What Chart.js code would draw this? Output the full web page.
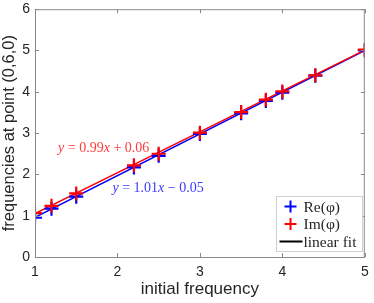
<!DOCTYPE html>
<html><head><meta charset="utf-8">
<script src="https://cdn.jsdelivr.net/npm/chart.js@4/dist/chart.umd.min.js"></script>
<style>html,body{margin:0;padding:0;background:#fff}#wrap{width:374px;height:303px}</style>
</head><body><div id="wrap"><canvas id="c" width="374" height="303"></canvas></div>
<script>
const xValues = [1, 1.2, 1.5, 2.2, 2.5, 3, 3.5, 3.8, 4, 4.4, 5];
const reValues = [0.95, 1.17, 1.46, 2.17, 2.45, 2.98, 3.48, 3.78, 3.98, 4.39, 5.0];
const imValues = [1.06, 1.24, 1.54, 2.22, 2.50, 3.01, 3.51, 3.81, 4.01, 4.40, 5.02];
const fitX = [1, 5];
const reFit = [0.96, 5.0];
const imFit = [1.05, 5.01];
const xTicks = [1, 2, 3, 4, 5];
const yTicks = [0, 1, 2, 3, 4, 5, 6];
const legendLabels = ['Re(φ)', 'Im(φ)', 'linear fit'];
const annotations = [
  {x: 1.28, y: 2.62, parts: [['y','i'],[' = 0.99','n'],['x','i'],[' + 0.06','n']], color: '#ff3b3b'},
  {x: 1.94, y: 1.67, parts: [['y','i'],[' = 1.01','n'],['x','i'],[' \u2212 0.05','n']], color: '#3b3bff'}
];

const pts = (xs, ys) => xs.map((x, i) => ({x, y: ys[i]}));
const AXC = '#8a8a8a';
const TXT = '#262626';

const boxPlugin = {
  id: 'box',
  afterDraw(chart) {
    const {ctx, chartArea: a, scales: {x, y}} = chart;
    ctx.save();
    ctx.strokeStyle = AXC; ctx.lineWidth = 1;
    ctx.strokeRect(a.left + 0.5, a.top + 0.5, a.right - a.left - 1, a.bottom - a.top);
    const L = 4;
    ctx.beginPath();
    xTicks.forEach(v => { const p = Math.round(x.getPixelForValue(v)) + 0.5;
      ctx.moveTo(p, a.bottom); ctx.lineTo(p, a.bottom - L);
      ctx.moveTo(p, a.top); ctx.lineTo(p, a.top + L); });
    yTicks.forEach(v => { const p = Math.round(y.getPixelForValue(v)) + 0.5;
      ctx.moveTo(a.left, p); ctx.lineTo(a.left + L, p);
      ctx.moveTo(a.right, p); ctx.lineTo(a.right - L, p); });
    ctx.stroke();

    // annotations
    ctx.textBaseline = 'middle';
    annotations.forEach(an => {
      let px = x.getPixelForValue(an.x), py = y.getPixelForValue(an.y);
      ctx.fillStyle = an.color;
      an.parts.forEach(([t, s]) => {
        ctx.font = (s === 'i' ? 'italic ' : '') + '14px "Liberation Serif", "DejaVu Serif", serif';
        ctx.fillText(t, px, py);
        px += ctx.measureText(t).width;
      });
    });

    // legend
    const lx = 276.5, ly = 196.5, lw = 86, lh = 55;
    ctx.fillStyle = '#fff';
    ctx.fillRect(lx, ly, lw, lh);
    ctx.strokeStyle = '#d0d0d0';
    ctx.strokeRect(lx, ly, lw, lh);
    const colors = ['#0000ff', '#ff0000', '#000000'];
    ctx.font = '15.5px "Liberation Serif", "DejaVu Serif", serif';
    ctx.textBaseline = 'middle';
    legendLabels.forEach((lab, i) => {
      const cy = ly + 10 + i * 17.5;
      const cx = lx + 14;
      ctx.strokeStyle = colors[i];
      ctx.lineWidth = 2;
      ctx.beginPath();
      if (i < 2) {
        ctx.moveTo(cx - 6, cy); ctx.lineTo(cx + 6, cy);
        ctx.moveTo(cx, cy - 6); ctx.lineTo(cx, cy + 6);
      } else {
        ctx.moveTo(lx + 3, cy); ctx.lineTo(lx + 26, cy);
      }
      ctx.stroke();
      ctx.fillStyle = TXT;
      ctx.fillText(lab, lx + 27, cy + 1);
    });
    ctx.restore();
  }
};

new Chart(document.getElementById('c'), {
  type: 'scatter',
  data: {
    datasets: [
      {label: 'Re fit', data: pts(fitX, reFit), showLine: true, borderColor: '#0000ff', borderWidth: 1.5, pointRadius: 0, order: 4},
      {label: 'Im fit', data: pts(fitX, imFit), showLine: true, borderColor: '#ff0000', borderWidth: 1.5, pointRadius: 0, order: 3},
      {label: legendLabels[0], data: pts(xValues, reValues), pointStyle: 'cross', pointRadius: 7, pointBorderWidth: 2.2, borderColor: '#0000ff', backgroundColor: '#0000ff', order: 2},
      {label: legendLabels[1], data: pts(xValues, imValues), pointStyle: 'cross', pointRadius: 7, pointBorderWidth: 2.2, borderColor: '#ff0000', backgroundColor: '#ff0000', order: 1}
    ]
  },
  options: {
    responsive: false, animation: false,
    layout: {padding: {top: 3, right: 8, left: 0, bottom: 0}},
    plugins: {legend: {display: false}, tooltip: {enabled: false}},
    scales: {
      x: {
        type: 'linear', min: 1, max: 5,
        afterBuildTicks: s => { s.ticks = xTicks.map(v => ({value: v})); },
        afterFit: s => { s.height = 46; s.paddingLeft = 0; s.paddingRight = 0; s.paddingTop = 0; s.paddingBottom = 0; },
        grid: {display: false, drawTicks: false},
        border: {display: false},
        ticks: {color: TXT, font: {family: '"Liberation Sans", Arial, sans-serif', size: 14}, padding: 7, maxRotation: 0},
        title: {display: true, text: 'initial frequency', color: TXT, font: {family: '"Liberation Sans", Arial, sans-serif', size: 17}, padding: {top: 0, bottom: 3}}
      },
      y: {
        min: 0, max: 6,
        afterBuildTicks: s => { s.ticks = yTicks.map(v => ({value: v})); },
        afterFit: s => { s.width = 35; s.paddingTop = 0; s.paddingBottom = 0; s.paddingLeft = 0; s.paddingRight = 0; },
        grid: {display: false, drawTicks: false},
        border: {display: false},
        ticks: {color: TXT, font: {family: '"Liberation Sans", Arial, sans-serif', size: 14}, padding: 5},
        title: {display: true, text: 'frequencies at point (0,6,0)', color: TXT, font: {family: '"Liberation Sans", Arial, sans-serif', size: 16.5}, padding: {top: 0, bottom: 1}}
      }
    }
  },
  plugins: [boxPlugin]
});
</script>
</body></html>
